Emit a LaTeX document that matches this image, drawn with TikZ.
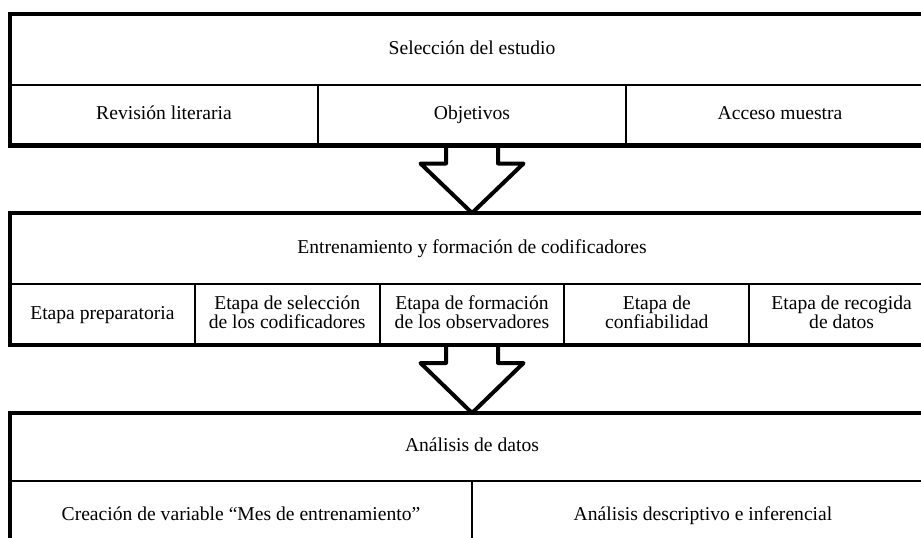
\documentclass[tikz,border=0pt]{standalone}
\usepackage{fontspec}
\setmainfont{Liberation Serif}
\usetikzlibrary{calc}
\newcommand{\mytwolines}[2]{\rule{0pt}{13.5pt}#1\\#2\rule[-4.5pt]{0pt}{4.5pt}}
\begin{document}
\begin{tikzpicture}[x=1pt,y=-1pt,
  cellbase/.style={draw, line width=2pt, inner sep=0pt, outer sep=0pt, anchor=north west,
    align=center, font=\fontsize{19.6}{18.5}\selectfont},
  cell/.style={cellbase, text height=13.5pt, text depth=4.5pt},
  celltwo/.style={cellbase},
  frame/.style={line width=4.5pt},
  blockarrow/.style={draw, line width=4pt, line join=round}]
\useasboundingbox (0,0) rectangle (921,538);
\clip (0,0) rectangle (921,538);
% Box 1
\node[cell, minimum width=924pt, minimum height=71pt] (sel) at (10,14) {Selección del estudio};
\node[cell, minimum width=308pt, minimum height=60.5pt] (rev) at (sel.south west) {Revisión literaria};
\node[cell, minimum width=308pt, minimum height=60.5pt] (obj) at (rev.north east) {Objetivos};
\node[cell, minimum width=308pt, minimum height=60.5pt] (acc) at (obj.north east) {Acceso muestra};
% Box 2
\node[cell, minimum width=924pt, minimum height=71pt] (ent) at (10,213) {Entrenamiento y formación de codificadores};
\node[cell, minimum width=184.8pt, minimum height=61pt] (pre) at (ent.south west) {Etapa preparatoria};
\node[celltwo, minimum width=184.8pt, minimum height=61pt] (selc) at (pre.north east) {\mytwolines{Etapa de selección}{de los codificadores}};
\node[celltwo, minimum width=184.8pt, minimum height=61pt] (obs) at (selc.north east) {\mytwolines{Etapa de formación}{de los observadores}};
\node[celltwo, minimum width=184.8pt, minimum height=61pt] (con) at (obs.north east) {\mytwolines{Etapa de}{confiabilidad}};
\node[celltwo, minimum width=184.8pt, minimum height=61pt] (rec) at (con.north east) {\mytwolines{Etapa de recogida}{de datos}};
% Box 3
\node[cell, minimum width=924pt, minimum height=68pt] (ana) at (10,413) {Análisis de datos};
\node[cell, minimum width=462pt, minimum height=70pt] (cre) at (ana.south west) {Creación de variable “Mes de entrenamiento”};
\node[cell, minimum width=462pt, minimum height=70pt] (des) at (cre.north east) {Análisis descriptivo e inferencial};
% Arrows
\draw[blockarrow] ($(obj.south)+(-26,0)$) -- ++(0,18) -- ++(-25.5,0) -- (ent.north)
  -- ($(obj.south)+(51.5,18)$) -- ++(-25.5,0) -- ++(0,-18);
\draw[blockarrow] ($(obs.south)+(-26,0)$) -- ++(0,18) -- ++(-25.5,0) -- (ana.north)
  -- ($(obs.south)+(51.5,18)$) -- ++(-25.5,0) -- ++(0,-18);
% Frames
\draw[frame] (sel.north west) rectangle (acc.south east);
\draw[frame] (ent.north west) rectangle (rec.south east);
\draw[frame] (ana.north west) rectangle (des.south east);
\end{tikzpicture}
\end{document}
